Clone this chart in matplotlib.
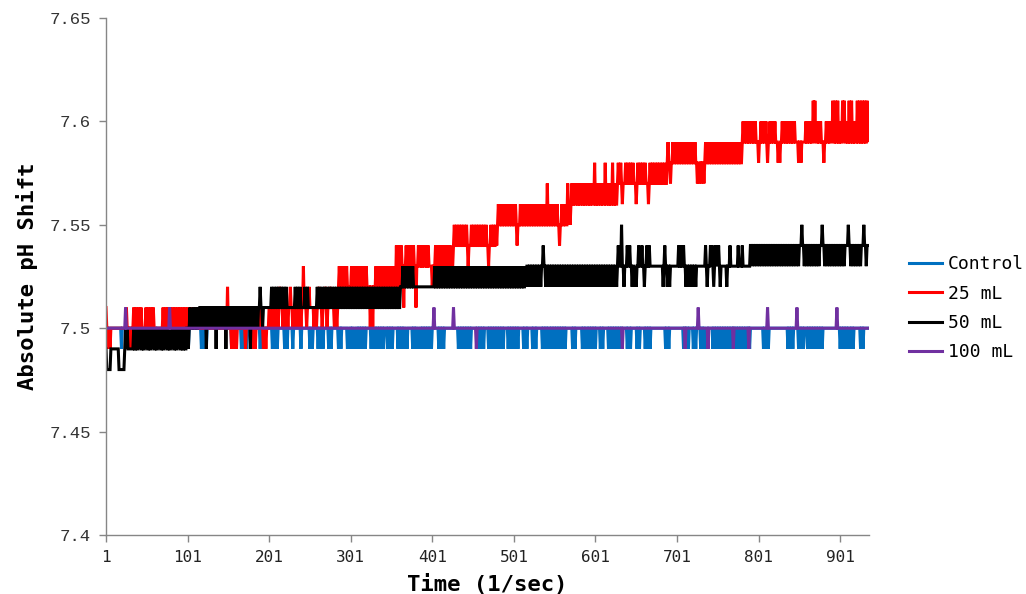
import numpy as np
import matplotlib
matplotlib.use("Agg")
import matplotlib.pyplot as plt

# ---- data -------------------------------------------------------------
n_samples = 936
x_ticks = [1, 101, 201, 301, 401, 501, 601, 701, 801, 901]
y_ticks = [7.40, 7.45, 7.50, 7.55, 7.60, 7.65]
y_tick_labels = ["7.4", "7.45", "7.5", "7.55", "7.6", "7.65"]
series_names = ["Control", "25 mL", "50 mL", "100 mL"]
series_colors = ["#0070C0", "#FF0000", "#000000", "#7030A0"]

# Control: steady at 7.50 with single-sample readings of 7.49
control_steps = [(1, 7.50)]
control_down = [20, 36, 48, 63, 79, 88, 99, 102, 118, 121, 124, 155, 157, 167, 170,
                173, 178, 190, 205, 208, 211, 220, 223, 230, 240, 251, 254, 261, 264,
                267, 274, 277, 286, 289, 297, 299, 302, 305, 307, 310, 313, 316, 319,
                326, 329, 332, 335, 338, 341, 346, 349, 352, 359, 362, 365, 368, 370,
                377, 380, 383, 385, 388, 391, 394, 397, 400, 409, 412, 415, 433, 436,
                439, 442, 445, 448, 458, 461, 464, 470, 473, 476, 479, 482, 485, 488,
                494, 497, 500, 503, 506, 513, 517, 524, 528, 536, 539, 542, 546, 549,
                552, 555, 558, 561, 564, 573, 576, 585, 588, 592, 595, 598, 601, 607,
                610, 617, 620, 623, 626, 629, 632, 640, 644, 652, 655, 662, 665, 668,
                687, 691, 709, 712, 715, 721, 724, 730, 733, 736, 738, 745, 748, 751,
                754, 757, 760, 763, 766, 769, 772, 775, 778, 781, 784, 787, 790, 807,
                810, 813, 837, 840, 843, 850, 853, 856, 861, 864, 867, 870, 873, 876,
                879, 901, 904, 907, 910, 914, 917, 926, 929]

# 25 mL
red_steps = [(1, 7.50), (201, 7.51), (286, 7.52), (362, 7.53), (427, 7.54),
             (481, 7.55), (571, 7.56), (628, 7.57), (689, 7.58), (781, 7.59)]
red_up = [1, 26, 35, 38, 41, 44, 50, 53, 56, 59, 71, 74, 77, 80, 83, 86, 89, 92, 95,
          98, 101, 104, 107, 112, 116, 120, 124, 128, 133, 137, 141, 146, 165, 176,
          190, 214, 227, 250, 262, 270, 276, 287, 290, 293, 296, 302, 305, 308, 311,
          314, 317, 320, 332, 335, 338, 341, 344, 347, 350, 353, 363, 369, 372, 375,
          378, 384, 387, 390, 393, 396, 405, 408, 411, 414, 417, 420, 423, 428, 431,
          434, 437, 440, 443, 449, 452, 455, 458, 461, 464, 467, 473, 476, 479, 482,
          485, 488, 491, 494, 497, 500, 503, 509, 512, 515, 518, 521, 524, 527, 530,
          533, 536, 539, 545, 548, 551, 554, 560, 563, 569, 572, 575, 578, 581, 584,
          587, 590, 593, 596, 603, 606, 609, 616, 619, 625, 629, 632, 638, 641, 644,
          647, 653, 656, 659, 662, 668, 671, 674, 677, 680, 683, 686, 690, 696, 699,
          702, 705, 708, 711, 714, 717, 720, 723, 736, 739, 742, 745, 748, 751, 754,
          757, 760, 763, 766, 769, 772, 775, 778, 782, 785, 788, 791, 794, 797, 804,
          807, 810, 815, 818, 821, 830, 833, 836, 839, 842, 845, 859, 862, 865, 874,
          877, 884, 887, 890, 901, 909, 918, 936]
red_down = [4, 6, 30, 33, 155, 158, 161, 172, 180, 184, 194, 197, 203, 206, 209, 212,
            218, 221, 224, 230, 233, 236, 240, 247, 256, 259, 266, 272, 281, 284, 300,
            401, 445, 470, 505, 557, 634, 651, 666, 693, 726, 728, 731, 734, 801, 812,
            825, 827, 850, 853, 881]
red_up2 = [150, 243, 357, 360, 542, 567, 600, 613, 622, 868, 870, 892, 895, 898, 904,
           906, 912, 915, 922, 925, 928, 931, 934]
red_down2 = [325, 328, 366, 381]

# 50 mL
black_steps = [(1, 7.49), (100, 7.50), (114, 7.51), (362, 7.52), (515, 7.53), (791, 7.54)]
black_up = [25, 27, 35, 38, 41, 43, 46, 49, 51, 54, 57, 59, 62, 65, 67, 70, 73, 75, 78,
            81, 83, 86, 89, 91, 94, 97, 104, 108, 111, 190, 204, 207, 210, 213, 216,
            219, 222, 233, 236, 239, 245, 248, 260, 263, 266, 269, 272, 275, 278, 281,
            284, 287, 290, 293, 296, 299, 302, 305, 308, 311, 314, 317, 320, 323, 326,
            329, 332, 335, 338, 341, 344, 347, 350, 353, 356, 359, 365, 368, 371, 374,
            377, 404, 407, 410, 413, 416, 419, 422, 425, 428, 431, 434, 437, 440, 443,
            446, 449, 452, 455, 458, 461, 464, 467, 470, 473, 476, 479, 482, 485, 488,
            491, 494, 497, 500, 503, 506, 509, 512, 537, 629, 640, 643, 654, 658, 664,
            667, 686, 703, 706, 709, 736, 742, 744, 748, 750, 752, 766, 776, 781, 854,
            879, 911, 930]
black_down = [2, 3, 4, 5, 6, 17, 18, 19, 20, 21, 22, 23, 102, 115, 118, 121, 127, 130,
              133, 139, 142, 145, 151, 154, 157, 160, 163, 166, 169, 172, 175, 181, 184,
              187, 193, 516, 519, 522, 525, 528, 531, 534, 540, 543, 546, 549, 552, 555,
              558, 561, 564, 567, 570, 573, 576, 579, 582, 585, 588, 591, 594, 597, 600,
              603, 606, 609, 612, 615, 618, 621, 624, 627, 636, 646, 649, 651, 661, 684,
              689, 692, 712, 715, 718, 721, 724, 738, 746, 754, 762, 793, 796, 799, 802,
              805, 808, 811, 814, 817, 820, 823, 826, 829, 832, 835, 838, 841, 844, 847,
              850, 857, 860, 863, 866, 869, 872, 875, 882, 885, 888, 891, 894, 897, 900,
              903, 906, 914, 917, 920, 923, 926, 933]
black_up2 = [633]
black_down2 = [124, 136, 148, 178]

# 100 mL: steady at 7.50 with a few single-sample excursions
purple_steps = [(1, 7.50)]
purple_up = [25, 79, 403, 427, 727, 812, 848, 897]
purple_down = [455, 634, 711, 739, 770, 789]


def build_series(steps, up=(), down=(), up2=(), down2=()):
    """Baseline step levels plus the listed one-sample readings above/below it."""
    t = np.arange(1, n_samples + 1)
    base = np.empty(n_samples)
    for start, level in steps:
        base[t >= start] = level
    vals = base.copy()
    for idx_list, delta in ((up, 0.01), (down, -0.01), (up2, 0.02), (down2, -0.02)):
        idx = np.asarray(idx_list, dtype=int) - 1
        vals[idx] = base[idx] + delta
    return t, np.round(vals, 2)


series = [
    build_series(control_steps, down=control_down),
    build_series(red_steps, red_up, red_down, red_up2, red_down2),
    build_series(black_steps, black_up, black_down, black_up2, black_down2),
    build_series(purple_steps, purple_up, purple_down),
]

# ---- figure -----------------------------------------------------------
fig = plt.figure(figsize=(10.26, 5.94), dpi=100)
ax = fig.add_axes([0.1033, 0.0993, 0.7434, 0.8704])

for (t, v), name, col in zip(series, series_names, series_colors):
    ax.plot(t, v, color=col, lw=2.2, label=name, solid_joinstyle="miter")

ax.set_xlim(1, n_samples)
ax.set_ylim(7.40, 7.65)
ax.set_xticks(x_ticks)
ax.set_xticklabels([str(v) for v in x_ticks], fontfamily="DejaVu Sans Mono",
                   fontsize=11.5, color="#222222")
ax.set_yticks(y_ticks)
ax.set_yticklabels(y_tick_labels, fontfamily="Liberation Mono", fontsize=12.5,
                   color="#333333")

for side in ("top", "right"):
    ax.spines[side].set_visible(False)
for side in ("left", "bottom"):
    ax.spines[side].set_color("#868686")
    ax.spines[side].set_linewidth(1.0)
ax.tick_params(axis="both", direction="out", length=5, width=1.0, color="#868686")
ax.tick_params(axis="x", pad=6)
ax.tick_params(axis="y", pad=6)

ax.set_xlabel("Time (1/sec)", fontfamily="DejaVu Sans Mono", fontweight="bold",
              fontsize=16, labelpad=6)
ax.set_ylabel("Absolute pH Shift", fontfamily="DejaVu Sans Mono", fontweight="bold",
              fontsize=16, labelpad=8)

leg = fig.legend(loc="center left", bbox_to_anchor=(0.886, 0.481), frameon=False,
                 prop={"family": "DejaVu Sans Mono", "size": 13},
                 handlelength=1.85, handletextpad=0.3, labelspacing=0.62,
                 borderpad=0, borderaxespad=0)
for line in leg.get_lines():
    line.set_linewidth(2.2)

fig.savefig("out.png", dpi=100)
